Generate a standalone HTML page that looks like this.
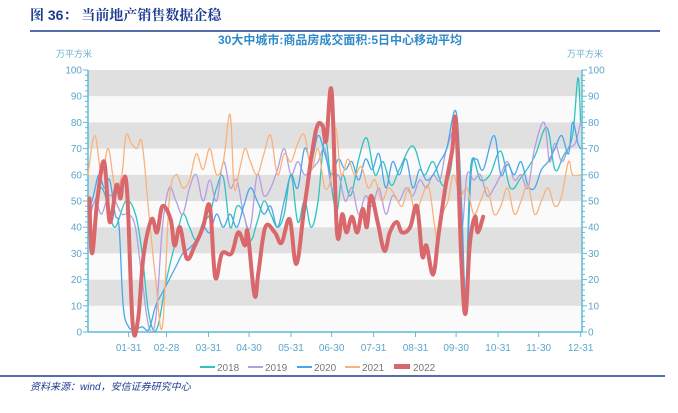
<!DOCTYPE html>
<html><head><meta charset="utf-8"><style>
body{margin:0;width:678px;height:408px;background:#fff;overflow:hidden;font-family:"Liberation Sans","Noto Sans CJK SC",sans-serif;}
</style></head><body>
<svg width="678" height="408" xmlns="http://www.w3.org/2000/svg">
<text x="30" y="20" font-size="14" font-weight="bold" fill="#1d3c8f" font-family="Liberation Sans, Noto Serif CJK SC, serif">图 36：  当前地产销售数据企稳</text>
<line x1="30" y1="31" x2="660" y2="31" stroke="#1d3c8f" stroke-width="1.5"/>
<text x="340" y="44" font-size="12" font-weight="bold" fill="#2e8bc9" text-anchor="middle">30大中城市:商品房成交面积:5日中心移动平均</text>
<text x="56" y="57" font-size="9" fill="#6aaecf">万平方米</text>
<text x="567" y="57" font-size="9" fill="#6aaecf">万平方米</text>
<g id="bands"></g><g id="axes"></g><g id="series"></g><g id="legend"></g>
<line x1="0" y1="376" x2="665" y2="376" stroke="#1d3c8f" stroke-width="1.5"/>
<text x="30" y="390" font-size="10" font-style="italic" fill="#1d3c8f">资料来源：wind，安信证券研究中心</text>
</svg>
<script>
const yTicks=[0,10,20,30,40,50,60,70,80,90,100];
const xTickDays=[30,58,89,119,150,180,211,242,272,303,333,364];
const xTickLabels=["01-31","02-28","03-31","04-30","05-31","06-30","07-31","08-31","09-30","10-31","11-30","12-31"];
const seriesNames=["2018","2019","2020","2021","2022"];
const d2018=[0,5,10,15,20,28,35,40,44,48,52,58,65,70,75,80,85,90,95,100,105,110,115,120,125,130,135,140,145,150,155,160,165,170,175,180,184,188,194,200,206,212,218,224,230,240,248,255,262,268,272,276,279,283,290,297,305,312,320,330,339,345,351,358,362,364];
const v2018=[45,50,55,48,40,50,45,30,10,1,3,20,35,45,40,35,42,45,55,59,40,48,45,35,42,50,45,40,45,60,42,50,40,50,74,55,46,60,52,66,74,60,65,56,62,71,60,65,56,62,80,40,15,64,58,60,69,55,59,67,78,62,67,75,97,80];
const d2019=[0,5,10,15,20,25,30,35,40,45,50,55,60,65,70,75,80,85,90,95,100,105,110,115,120,125,130,135,140,145,150,155,160,165,170,175,180,185,190,195,200,205,210,215,220,225,230,235,240,245,250,255,260,265,272,276,280,285,290,295,300,305,310,315,320,325,330,337,341,345,350,355,360,364];
const v2019=[40,50,45,52,50,45,45,40,20,2,5,40,55,50,45,55,60,50,58,50,65,55,58,45,40,60,52,55,62,70,60,65,60,62,65,70,55,60,50,55,45,52,48,55,45,52,50,55,52,58,55,60,58,70,75,40,60,58,60,52,55,60,65,58,60,55,70,80,65,72,65,70,72,80];
const d2020=[0,4,8,12,16,20,23,26,30,35,40,45,50,55,60,65,70,75,80,85,90,95,100,105,110,115,120,125,130,135,140,145,150,155,160,165,170,175,180,185,190,195,200,205,210,215,220,225,230,235,240,245,250,255,260,265,272,276,279,283,287,292,300,305,310,315,320,325,330,335,340,345,350,355,358,362,364];
const v2020=[45,52,60,55,58,45,40,10,2,1,2,1,10,15,20,25,30,32,35,40,38,45,40,45,40,48,55,50,45,48,40,50,60,55,70,65,75,68,60,66,62,65,58,66,62,68,55,65,60,66,55,62,58,60,65,70,84,50,15,60,66,62,75,60,64,60,65,56,55,62,65,70,75,68,80,72,70];
const d2021=[0,5,10,15,20,25,28,32,36,40,45,50,55,60,65,70,75,80,85,90,95,100,105,108,112,116,120,125,130,135,140,145,150,155,160,165,170,175,180,183,187,192,197,202,207,212,217,222,227,232,237,242,247,252,258,262,266,270,275,280,285,290,295,300,305,310,315,320,325,330,335,340,345,350,355,358,364];
const v2021=[60,75,60,70,55,60,75,72,70,72,45,20,2,50,60,55,58,68,62,70,60,65,83,55,62,70,65,60,68,75,60,68,65,72,75,62,70,55,60,78,60,66,60,63,55,58,50,55,52,48,55,45,52,55,35,45,50,60,52,55,45,50,55,45,48,55,45,50,56,45,50,55,48,52,65,60,60];
const d2022=[1,3,7,12,16,21,24,26,29,33,37,41,47,51,55,61,64,68,73,79,85,90,94,99,106,111,116,118,123,126,131,138,143,149,154,160,168,173,176,180,184,188,191,195,199,203,206,209,214,219,223,228,232,238,243,247,250,255,259,264,269,272,276,279,282,286,288,292];
const v2022=[51,30,51,65,42,56,51,58,53,3,5,29,43,38,48,43,33,40,28,33,40,48,21,30,30,38,33,38,14,23,40,38,34,43,26,48,76,79,73,92,38,45,38,44,38,47,40,52,42,31,38,42,38,40,48,29,33,22,37,55,69,80,26,7,33,44,38,44];
const colors=["#2ec4bd","#b49ee0","#4aa6ea","#f9b27c","#d9686c"];
const widths=[1.3,1.3,1.3,1.3,4];
const X0=88,X1=582,Y0=332,Y1=70;
const xs=d=>X0+d/365*(X1-X0);
const ys=v=>Y0-v/100*(Y0-Y1);
const NS="http://www.w3.org/2000/svg";
function mk(tag,attrs,parent,txt){const e=document.createElementNS(NS,tag);for(const k in attrs)e.setAttribute(k,attrs[k]);if(txt!==undefined)e.textContent=txt;document.getElementById(parent).appendChild(e);return e;}
for(let i=0;i<yTicks.length-1;i++){
  const r=mk('rect',{x:X0,y:ys(yTicks[i+1]),width:X1-X0,height:ys(yTicks[i])-ys(yTicks[i+1]),fill:i%2===1?'#e0e0e0':'#fafafa'},'bands');
  
  
}
const ac='#5fbcd6',tc='#5aa6cc';
let e;
e=mk('line',{x1:X0,y1:Y1,x2:X0,y2:Y0,stroke:ac,'stroke-width':1.5},'axes');


e=mk('line',{x1:X1,y1:Y1,x2:X1,y2:Y0,stroke:ac,'stroke-width':1.5},'axes');


e=mk('line',{x1:X0,y1:Y0,x2:X1,y2:Y0,stroke:ac,'stroke-width':1.5},'axes');


for(let v=0;v<=100;v+=2){const y=ys(v);const L=v%10===0?5:3;
  mk('line',{x1:X0-L,y1:y,x2:X0,y2:y,stroke:ac},'axes');mk('line',{x1:X1,y1:y,x2:X1+L,y2:y,stroke:ac},'axes');}
yTicks.forEach(v=>{
  e=mk('text',{x:X0-6,y:ys(v)+3.5,'font-size':10,fill:tc,'text-anchor':'end'},'axes',String(v));
  
  
  e=mk('text',{x:X1+6,y:ys(v)+3.5,'font-size':10,fill:tc},'axes',String(v));
  
  
});
xTickDays.forEach((d,i)=>{
  mk('line',{x1:xs(d),y1:Y0,x2:xs(d),y2:Y0+5,stroke:ac},'axes');
  e=mk('text',{x:xs(d),y:Y0+19,'font-size':10,fill:tc,'text-anchor':'middle'},'axes',xTickLabels[i]);
  
  
});
function smoothPath(pts){
  let p='M'+pts[0][0].toFixed(1)+' '+pts[0][1].toFixed(1);
  for(let i=0;i<pts.length-1;i++){
    const p0=pts[Math.max(0,i-1)],p1=pts[i],p2=pts[i+1],p3=pts[Math.min(pts.length-1,i+2)];
    const t=0.18;
    const c1x=p1[0]+(p2[0]-p0[0])*t,c1y=p1[1]+(p2[1]-p0[1])*t;
    const c2x=p2[0]-(p3[0]-p1[0])*t,c2y=p2[1]-(p3[1]-p1[1])*t;
    p+=' C'+c1x.toFixed(1)+' '+c1y.toFixed(1)+' '+c2x.toFixed(1)+' '+c2y.toFixed(1)+' '+p2[0].toFixed(1)+' '+p2[1].toFixed(1);
  }
  return p;
}
const allD=[d2018,d2019,d2020,d2021,d2022],allV=[v2018,v2019,v2020,v2021,v2022];
allD.forEach((ds,k)=>{
  const pts=ds.map((d,i)=>[xs(d),ys(allV[k][i])]);
  const pa=mk('path',{d:smoothPath(pts),fill:'none',stroke:colors[k],'stroke-width':widths[k],'stroke-linejoin':'round','stroke-linecap':'round'},'series');
  
  
});
const lx=[200,248,297,345,394];
seriesNames.forEach((n,k)=>{
  const g=mk('g',{},'legend');
  
  
  const ln=document.createElementNS(NS,'rect');
  ln.setAttribute('x',lx[k]);ln.setAttribute('y',k===4?364:366);ln.setAttribute('width',k===4?16:15);ln.setAttribute('height',k===4?5:2);ln.setAttribute('fill',colors[k]);
  g.appendChild(ln);
  const t=document.createElementNS(NS,'text');
  t.setAttribute('x',lx[k]+(k===4?19:17));t.setAttribute('y',371);t.setAttribute('font-size',10);t.setAttribute('fill','#777');t.textContent=n;
  g.appendChild(t);
});
</script>
</body></html>
